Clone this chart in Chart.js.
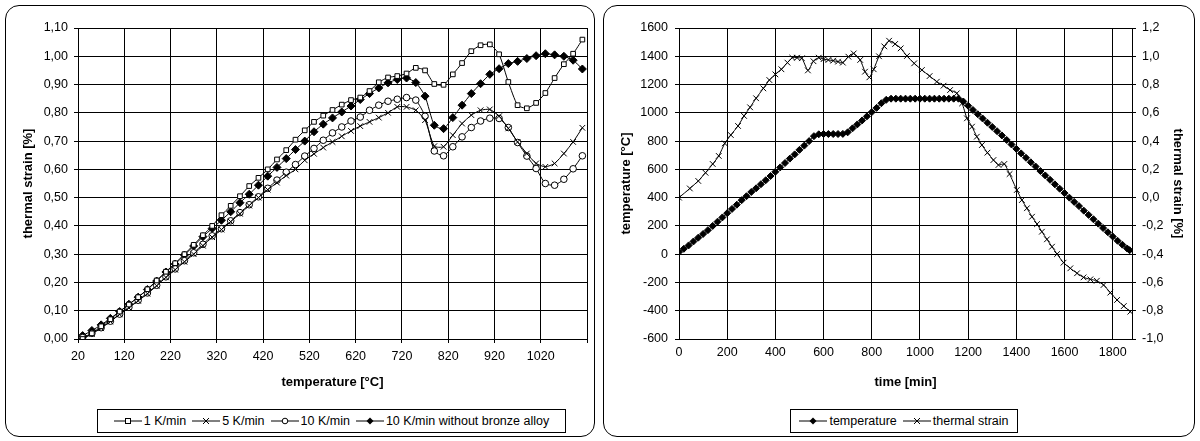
<!DOCTYPE html>
<html>
<head>
<meta charset="utf-8">
<script src="https://cdn.jsdelivr.net/npm/chart.js@4"></script>
<style>
  body { margin: 0; background: #fff; width: 1200px; height: 441px; position: relative; overflow: hidden;
         font-family: "Liberation Sans", Arial, sans-serif; }
  .box { position: absolute; border: 1.5px solid #000; border-radius: 14px; box-sizing: border-box; }
  canvas { position: absolute; top: 0; }
  .legend { position: absolute; border: 1px solid #000; box-sizing: border-box; background: #fff;
            display: flex; align-items: center; justify-content: center; font-size: 12.5px; white-space: nowrap; color: #000; }
  .legend span { display: inline-flex; align-items: center; margin: 0 3px; }
  .legend svg { margin-right: 2px; }
</style>
</head>
<body>
<div class="box" style="left:5px;top:5px;width:590px;height:432px"></div>
<div class="box" style="left:603px;top:5px;width:592px;height:432px"></div>
<canvas id="strainChart" width="600" height="400" style="left:0"></canvas>
<canvas id="cycleChart" width="600" height="400" style="left:600px"></canvas>

<div class="legend" style="left:97px;top:409px;width:469px;height:24px">
  <span><svg width="28" height="10"><line x1="0" y1="5" x2="28" y2="5" stroke="#000"/><rect x="11.5" y="2.5" width="5" height="5" fill="#fff" stroke="#000"/></svg>1 K/min</span>
  <span><svg width="28" height="10"><line x1="0" y1="5" x2="28" y2="5" stroke="#000"/><path d="M11 2 L17 8 M17 2 L11 8" stroke="#000"/></svg>5 K/min</span>
  <span><svg width="28" height="10"><line x1="0" y1="5" x2="28" y2="5" stroke="#000"/><circle cx="14" cy="5" r="2.8" fill="#fff" stroke="#000"/></svg>10 K/min</span>
  <span><svg width="28" height="10"><line x1="0" y1="5" x2="28" y2="5" stroke="#000"/><path d="M14 1.5 L17.5 5 L14 8.5 L10.5 5 Z" fill="#000"/></svg>10 K/min without bronze alloy</span>
</div>
<div class="legend" style="left:790px;top:409px;width:228px;height:24px">
  <span><svg width="28" height="10"><line x1="0" y1="5" x2="28" y2="5" stroke="#000"/><path d="M14 1.5 L17.5 5 L14 8.5 L10.5 5 Z" fill="#000"/></svg>temperature</span>
  <span><svg width="28" height="10"><line x1="0" y1="5" x2="28" y2="5" stroke="#000"/><path d="M11 2 L17 8 M17 2 L11 8" stroke="#000"/></svg>thermal strain</span>
</div>

<script>
// left chart: thermal strain vs temperature
var temperatures = [30, 50, 70, 90, 110, 130, 150, 170, 190, 210, 230, 250, 270, 290, 310, 330, 350, 370, 390, 410,
  430, 450, 470, 490, 510, 530, 550, 570, 590, 610, 630, 650, 670, 690, 710, 730, 750, 770, 790, 810,
  830, 850, 870, 890, 910, 930, 950, 970, 990, 1010, 1030, 1050, 1070, 1090, 1110];

var strain1K = [0.00, 0.02, 0.045, 0.07, 0.097, 0.122, 0.148, 0.176, 0.207, 0.238, 0.268, 0.30, 0.333, 0.367, 0.40,
  0.438, 0.471, 0.505, 0.541, 0.57, 0.60, 0.635, 0.668, 0.705, 0.738, 0.768, 0.79, 0.81, 0.829, 0.845,
  0.854, 0.877, 0.908, 0.925, 0.93, 0.939, 0.959, 0.95, 0.902, 0.899, 0.936, 0.976, 1.018, 1.039, 1.042,
  1.007, 0.909, 0.827, 0.816, 0.835, 0.87, 0.923, 0.972, 1.009, 1.059];

var strain5K = [0.0, 0.018, 0.038, 0.062, 0.087, 0.11, 0.135, 0.16, 0.188, 0.218, 0.245, 0.273, 0.30, 0.33, 0.36,
  0.387, 0.415, 0.443, 0.472, 0.50, 0.528, 0.553, 0.578, 0.60, 0.632, 0.655, 0.677, 0.697, 0.717, 0.736,
  0.753, 0.768, 0.783, 0.80, 0.821, 0.821, 0.809, 0.774, 0.682, 0.68, 0.721, 0.762, 0.792, 0.809, 0.812,
  0.788, 0.745, 0.697, 0.656, 0.621, 0.609, 0.621, 0.656, 0.697, 0.747];

var strain10K = [0.005, 0.02, 0.04, 0.063, 0.088, 0.112, 0.137, 0.163, 0.19, 0.22, 0.248, 0.277, 0.305, 0.335, 0.365,
  0.39, 0.418, 0.447, 0.475, 0.503, 0.533, 0.562, 0.59, 0.617, 0.647, 0.674, 0.703, 0.729, 0.75, 0.771,
  0.785, 0.809, 0.827, 0.841, 0.848, 0.854, 0.845, 0.788, 0.665, 0.648, 0.68, 0.715, 0.748, 0.771, 0.781,
  0.78, 0.748, 0.695, 0.647, 0.603, 0.55, 0.544, 0.565, 0.602, 0.648];

var strain10KNoBronze = [0.012, 0.03, 0.05, 0.073, 0.097, 0.123, 0.148, 0.175, 0.205, 0.237, 0.265, 0.297, 0.329, 0.362, 0.391,
  0.42, 0.45, 0.482, 0.512, 0.544, 0.576, 0.607, 0.638, 0.67, 0.70, 0.733, 0.76, 0.782, 0.803, 0.824,
  0.847, 0.868, 0.888, 0.906, 0.918, 0.923, 0.907, 0.859, 0.756, 0.744, 0.783, 0.827, 0.868, 0.903, 0.936,
  0.956, 0.974, 0.982, 0.992, 1.002, 1.009, 1.005, 1.0, 0.986, 0.955];

// right chart: temperature and thermal strain vs time
var tempTimes = [0, 20, 40, 60, 80, 100, 120, 140, 160, 180, 200, 220, 240, 260, 280, 300, 320, 340, 360, 380,
  400, 420, 440, 460, 480, 500, 520, 540, 560, 580, 600, 620, 640, 660, 680, 700, 720, 740, 760, 780,
  800, 820, 840, 860, 880, 900, 920, 940, 960, 980, 1000, 1020, 1040, 1060, 1080, 1100, 1120, 1140, 1160, 1180,
  1200, 1220, 1240, 1260, 1280, 1300, 1320, 1340, 1360, 1380, 1400, 1420, 1440, 1460, 1480, 1500, 1520, 1540, 1560, 1580,
  1600, 1620, 1640, 1660, 1680, 1700, 1720, 1740, 1760, 1780, 1800, 1820, 1840, 1860, 1870];

var tempValues = [15, 38, 62, 90, 117, 143, 170, 200, 230, 260, 290, 320, 350, 382, 410, 440, 466, 495, 523, 553,
  583, 614, 645, 676, 706, 738, 768, 800, 835, 848, 850, 850, 850, 850, 851, 862, 890, 918, 946, 975,
  1005, 1035, 1068, 1092, 1100, 1100, 1100, 1100, 1100, 1100, 1100, 1100, 1100, 1100, 1100, 1100, 1100, 1100, 1100, 1080,
  1050, 1020, 990, 960, 930, 900, 870, 840, 808, 776, 745, 713, 682, 650, 620, 588, 557, 526, 494, 463,
  432, 400, 370, 340, 308, 278, 247, 216, 185, 155, 125, 95, 67, 40, 28];

var strainTimes = [0, 45, 80, 110, 140, 165, 190, 215, 245, 270, 295, 320, 350, 375, 400, 425, 450, 470, 490, 510,
  535, 558, 580, 600, 620, 640, 660, 680, 703, 725, 752, 772, 790, 808, 830, 852, 872, 897, 920, 946,
  976, 1008, 1040, 1070, 1098, 1125, 1153, 1175, 1195, 1216, 1236, 1257, 1280, 1305, 1326, 1350, 1372, 1402, 1423, 1444,
  1465, 1486, 1506, 1527, 1548, 1569, 1596, 1624, 1652, 1679, 1707, 1734, 1762, 1790, 1818, 1846, 1873];

var strainValues = [0.0, 0.065, 0.118, 0.176, 0.238, 0.295, 0.384, 0.443, 0.507, 0.578, 0.639, 0.703, 0.773, 0.832, 0.872, 0.908, 0.955, 0.99, 0.99, 0.986,
  0.90, 0.965, 0.99, 0.98, 0.974, 0.969, 0.962, 0.955, 0.997, 1.02, 0.974, 0.891, 0.851, 0.908, 1.0, 1.07, 1.11, 1.087, 1.056, 1.002,
  0.95, 0.903, 0.86, 0.82, 0.792, 0.761, 0.738, 0.667, 0.561, 0.502, 0.431, 0.372, 0.318, 0.266, 0.231, 0.238, 0.167, 0.054, -0.017, -0.075,
  -0.135, -0.187, -0.241, -0.295, -0.347, -0.399, -0.46, -0.50, -0.535, -0.564, -0.578, -0.588, -0.618, -0.672, -0.724, -0.767, -0.807];

function toPoints(xs, ys) {
  return xs.map(function (x, i) { return { x: x, y: ys[i] }; });
}

var tickFont = { family: '"Liberation Sans", Arial, sans-serif', size: 12.5 };
var titleFont = { family: '"Liberation Sans", Arial, sans-serif', size: 13, weight: 'bold' };

function series(label, xs, ys, style, radius, filled, yAxis) {
  return {
    label: label,
    data: toPoints(xs, ys),
    borderColor: '#000',
    borderWidth: 1,
    pointStyle: style,
    pointRadius: radius,
    pointBorderWidth: 1,
    pointBorderColor: '#000',
    pointBackgroundColor: filled ? '#000' : '#fff',
    tension: 0.2,
    yAxisID: yAxis || 'y'
  };
}

function plain(v) { return String(v); }

var ctx = document.getElementById('strainChart').getContext('2d');
var strainChart = new Chart(ctx, {
  type: 'line',
  data: {
    datasets: [
      series('1 K/min', temperatures, strain1K, 'rect', 3.3, false),
      series('5 K/min', temperatures, strain5K, 'crossRot', 4, false),
      series('10 K/min', temperatures, strain10K, 'circle', 3.3, false),
      series('10 K/min without bronze alloy', temperatures, strain10KNoBronze, 'rectRot', 4, true)
    ]
  },
  options: {
    responsive: false,
    animation: false,
    layout: { padding: { top: 28, right: 13, left: 0, bottom: 0 } },
    plugins: { legend: { display: false }, tooltip: { enabled: false } },
    scales: {
      x: {
        type: 'linear', min: 20, max: 1120,
        ticks: { stepSize: 100, color: '#000', font: tickFont, padding: 6, maxRotation: 0, autoSkip: false,
          callback: function (v) { return v === 1120 ? '' : String(v); } },
        grid: { color: '#000', tickColor: '#000', tickLength: 4 },
        border: { color: '#000' },
        title: { display: true, text: 'temperature [°C]', color: '#000', font: titleFont, padding: { top: 0, bottom: 10 } },
        afterFit: function (s) { s.height = 61; }
      },
      y: {
        min: 0, max: 1.1,
        ticks: { stepSize: 0.1, color: '#000', font: tickFont, padding: 6,
          callback: function (v) { return v.toFixed(2).replace('.', ','); } },
        grid: { color: '#000', tickColor: '#000', tickLength: 4 },
        border: { color: '#000' },
        title: { display: true, text: 'thermal strain [%]', color: '#000', font: titleFont, padding: { top: 21, bottom: 0 } },
        afterFit: function (s) { s.width = 78; }
      }
    }
  }
});

var ctx2 = document.getElementById('cycleChart').getContext('2d');
var cycleChart = new Chart(ctx2, {
  type: 'line',
  data: {
    datasets: [
      series('temperature', tempTimes, tempValues, 'rectRot', 3.5, true, 'y'),
      series('thermal strain', strainTimes, strainValues, 'crossRot', 4, false, 'y2')
    ]
  },
  options: {
    responsive: false,
    animation: false,
    layout: { padding: { top: 28, right: 0, left: 0, bottom: 0 } },
    plugins: { legend: { display: false }, tooltip: { enabled: false } },
    scales: {
      x: {
        type: 'linear', min: 0, max: 1880,
        ticks: { stepSize: 200, includeBounds: false, color: '#000', font: tickFont, padding: 6, maxRotation: 0, autoSkip: false,
          callback: plain },
        grid: { color: '#000', drawTicks: false },
        border: { color: '#000' },
        title: { display: true, text: 'time [min]', color: '#000', font: titleFont, padding: { top: 0, bottom: 10 } },
        afterFit: function (s) { s.height = 61; }
      },
      y: {
        min: -600, max: 1600,
        ticks: { stepSize: 200, color: '#000', font: tickFont, padding: 7, callback: plain },
        grid: { color: '#000', tickColor: '#000', tickLength: 4 },
        border: { color: '#000' },
        title: { display: true, text: 'temperature [°C]', color: '#000', font: titleFont, padding: { top: 19, bottom: 0 } },
        afterFit: function (s) { s.width = 79; }
      },
      y2: {
        position: 'right',
        min: -1.0, max: 1.2,
        ticks: { stepSize: 0.2, color: '#000', font: tickFont, padding: 6,
          callback: function (v) { return v.toFixed(1).replace('.', ','); } },
        grid: { drawOnChartArea: false, tickColor: '#000', tickLength: 4 },
        border: { color: '#000' },
        title: { display: true, text: 'thermal strain [%]', color: '#000', font: titleFont, padding: { top: 15, bottom: 0 } },
        afterFit: function (s) { s.width = 68; }
      }
    }
  }
});
</script>
</body>
</html>
